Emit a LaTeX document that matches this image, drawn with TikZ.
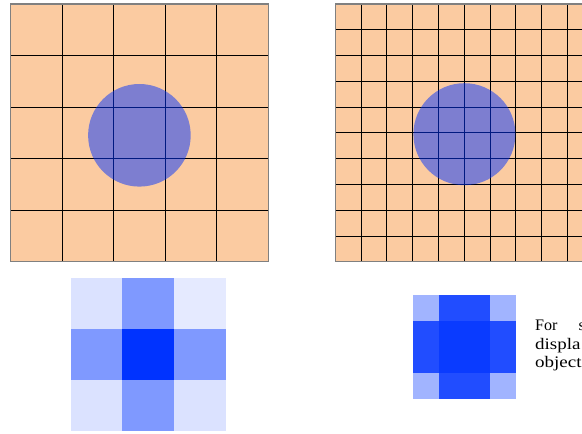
\documentclass[tikz,border=0pt]{standalone}
\usepackage{fontspec}
\setmainfont{Liberation Serif}
\usepackage{graphicx}
\usepackage{xcolor}
\definecolor{PixelPeach}{HTML}{FBCBA1}
\definecolor{SpotBlue}{HTML}{0033FF}

\begin{document}
\begin{tikzpicture}[x=1bp, y=-1bp,
    gridline/.style={black, line width=0.8bp},
    frame/.style={draw=black!50, line width=1.2bp},
    blob/.style={fill=SpotBlue, fill opacity=0.5},
    caption/.style={anchor=base west, inner sep=0pt, font=\fontsize{16.1bp}{18bp}\selectfont}
]
    \useasboundingbox (0,0) rectangle (582,434);
    \clip (0,0) rectangle (582,434);

    % coarse sampling grid, 5x5
    \fill[PixelPeach] (10.7,4) rectangle (268.2,261.5);
    \foreach \i in {1,...,4} {
        \draw[gridline] (10.7+51.5*\i,4) -- (10.7+51.5*\i,261.5);
        \draw[gridline] (10.7,4+51.5*\i) -- (268.2,4+51.5*\i);
    }
    \draw[frame] (10.7,4) rectangle (268.2,261.5);
    \fill[blob] (139.4,135.3) circle (51.3);

    % fine sampling grid, 10x10 (runs off the page)
    \fill[PixelPeach] (335.3,4) rectangle (593,261.7);
    \foreach \i in {1,...,9} {
        \draw[gridline] (335.3+25.77*\i,4) -- (335.3+25.77*\i,261.7);
        \draw[gridline] (335.3,4+25.77*\i) -- (593,4+25.77*\i);
    }
    \draw[frame] (335.3,4) rectangle (593,261.7);
    \fill[blob] (464.4,134.2) circle (51);

    % coarse result, 3x3
    \foreach \c/\r/\a in {0/0/0.14, 1/0/0.5, 2/0/0.10,
                          0/1/0.5,  1/1/1,   2/1/0.5,
                          0/2/0.14, 1/2/0.5, 2/2/0.14} {
        \fill[SpotBlue, fill opacity=\a]
            (70.7+51.67*\c,278.3+50.8*\r) rectangle ++(51.67,50.8);
    }

    % fine result, 4x4
    \foreach \c/\r/\a in {0/0/0.37, 1/0/0.87, 2/0/0.87, 3/0/0.37,
                          0/1/0.87, 1/1/0.96, 2/1/0.96, 3/1/0.87,
                          0/2/0.87, 1/2/0.96, 2/2/0.96, 3/2/0.87,
                          0/3/0.37, 1/3/0.87, 2/3/0.87, 3/3/0.37} {
        \fill[SpotBlue, fill opacity=\a]
            (412.7+25.83*\c,295+26*\r) rectangle ++(25.83,26);
    }

    \node[caption] (line1) at (535,330.5) {For\hspace{21bp}s};
    \node[caption] (line2) at (535,349) {\scalebox{1.18}[1]{displa}};
    \node[caption] (line3) at (535,367) {\scalebox{1.18}[1]{object}};
\end{tikzpicture}
\end{document}
